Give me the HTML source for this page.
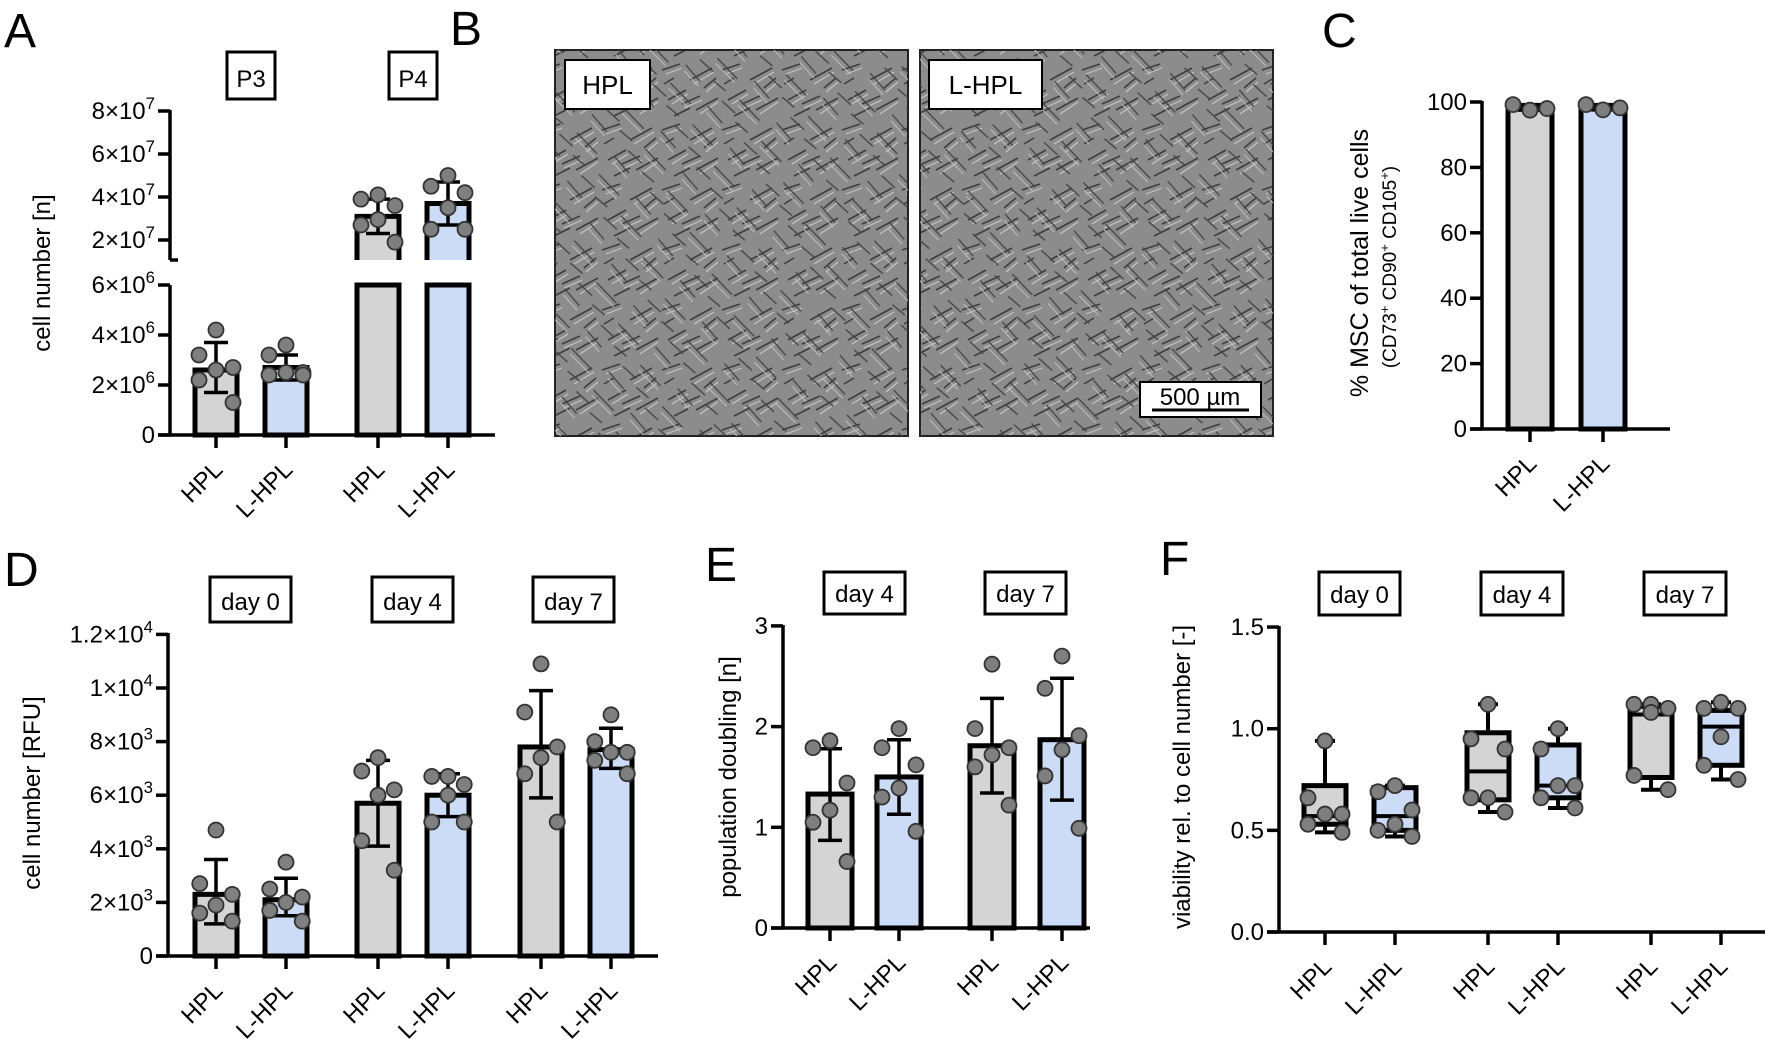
<!DOCTYPE html>
<html><head><meta charset="utf-8"><style>
body{margin:0;background:#fff;}
svg{display:block;font-family:"Liberation Sans",Arial,sans-serif;}
</style></head><body>
<svg id="fig" width="1772" height="1057" viewBox="0 0 1772 1057" xmlns="http://www.w3.org/2000/svg">
<defs>
<pattern id="cells" width="60" height="60" patternUnits="userSpaceOnUse">
<rect width="60" height="60" fill="#8c8c8c"/>
<path d="M2 10 L20 4 M30 20 L52 8 M8 40 L26 30 M36 50 L58 38 M14 56 L30 48 M44 28 L56 18 M4 24 L14 18 M22 44 L40 36" stroke="#3e3e3e" stroke-width="1.6"/>
<path d="M6 14 L22 8 M34 24 L54 12 M12 44 L28 34 M40 54 L58 42 M46 32 L58 22 M24 48 L42 40" stroke="#c4c4c4" stroke-width="1.2"/>
</pattern>
<pattern id="cells2" width="47" height="53" patternUnits="userSpaceOnUse" patternTransform="rotate(62)">
<path d="M3 8 L25 3 M12 30 L40 22 M5 46 L22 40 M30 44 L45 38" stroke="#444" stroke-width="1.4" fill="none"/>
<path d="M8 12 L28 7 M16 34 L42 26" stroke="#bdbdbd" stroke-width="1.1" fill="none"/>
</pattern>
</defs>
<g id="root"></g>
</svg>
<script>
// ===== Panel A data =====
const aCats = ["HPL","L-HPL","HPL","L-HPL"];
const aGroups = ["P3","P4"];
const aMeans = [2.6e6, 2.7e6, 3.1e7, 3.7e7];
const aErrLo = [1.7e6, 2.2e6, 2.3e7, 2.7e7];
const aErrHi = [3.7e6, 3.2e6, 3.9e7, 4.7e7];
const aPoints = [[4.2e6,3.2e6,2.7e6,2.6e6,2.2e6,1.3e6],[3.6e6,3.2e6,2.5e6,2.5e6,2.4e6,2.4e6],[4.1e7,3.9e7,3.6e7,2.95e7,2.7e7,1.9e7],[5.0e7,4.5e7,4.2e7,3.5e7,2.5e7,2.5e7]];
const aTicksLow = [0,2e6,4e6,6e6];
const aTicksHigh = [2e7,4e7,6e7,8e7];
// ===== Panel C data =====
const cCats = ["HPL","L-HPL"];
const cMeans = [98.0, 98.2];
const cErrLo = [97.5, 97.6];
const cErrHi = [99.2, 99.2];
const cPoints = [[97.5,99.2,98.0],[97.6,99.2,98.2]];
const cTicks = [0,20,40,60,80,100];
// ===== Panel D data =====
const dCats = ["HPL","L-HPL","HPL","L-HPL","HPL","L-HPL"];
const dGroups = ["day 0","day 4","day 7"];
const dMeans = [2.3, 2.1, 5.7, 6.0, 7.8, 7.7];
const dErrLo = [1.2, 1.5, 4.1, 5.2, 5.9, 7.0];
const dErrHi = [3.6, 2.9, 7.3, 6.8, 9.9, 8.5];
const dPoints = [[4.7,2.7,2.3,1.9,1.6,1.3],[3.5,2.5,2.2,2.0,1.7,1.3],[7.4,6.9,6.2,6.0,4.3,3.2],[6.7,6.7,6.4,6.0,5.0,5.0],[10.9,9.1,7.8,7.4,6.8,5.0],[9.0,8.0,7.6,7.6,7.3,6.8]];
const dTicks = [0,2,4,6,8,10,12];
const dTickLabels = ["0","2×10|3","4×10|3","6×10|3","8×10|3","1×10|4","1.2×10|4"];
// ===== Panel E data =====
const eCats = ["HPL","L-HPL","HPL","L-HPL"];
const eGroups = ["day 4","day 7"];
const eMeans = [1.33, 1.50, 1.81, 1.87];
const eErrLo = [0.87, 1.13, 1.34, 1.27];
const eErrHi = [1.78, 1.87, 2.28, 2.48];
const ePoints = [[1.86,1.79,1.44,1.17,1.05,0.66],[1.98,1.79,1.62,1.39,1.30,0.96],[2.62,1.98,1.79,1.72,1.60,1.22],[2.70,2.38,1.91,1.77,1.51,0.99]];
const eTicks = [0,1,2,3];
// ===== Panel F data =====
const fCats = ["HPL","L-HPL","HPL","L-HPL","HPL","L-HPL"];
const fGroups = ["day 0","day 4","day 7"];
const fMin = [0.49, 0.47, 0.59, 0.61, 0.70, 0.75];
const fQ1 = [0.53, 0.50, 0.65, 0.66, 0.76, 0.82];
const fMed = [0.57, 0.57, 0.79, 0.72, 1.07, 1.01];
const fQ3 = [0.72, 0.71, 0.98, 0.92, 1.11, 1.09];
const fMax = [0.94, 0.72, 1.12, 1.00, 1.12, 1.13];
const fPoints = [[0.94,0.66,0.58,0.58,0.53,0.49],[0.72,0.69,0.60,0.53,0.50,0.47],[1.12,0.95,0.90,0.66,0.66,0.59],[1.00,0.90,0.72,0.72,0.66,0.61],[1.12,1.12,1.10,1.08,0.77,0.70],[1.13,1.10,1.10,0.96,0.82,0.75]];
const fTicks = [0,0.5,1.0,1.5];
const fTickLabels = ["0.0","0.5","1.0","1.5"];

const NS="http://www.w3.org/2000/svg";
const root=document.getElementById('root');
const GRAY="#d4d4d4", BLUE="#cddcf6";
function mk(tag,attrs,parent){const e=document.createElementNS(NS,tag);for(const k in attrs)e.setAttribute(k,attrs[k]);(parent||root).appendChild(e);return e;}
function line(x1,y1,x2,y2,w,name){const e=mk('line',{x1,y1,x2,y2,stroke:'#000','stroke-width':w});

return e;}
function txt(x,y,s,size,anchor,name,extra){const e=mk('text',Object.assign({x,y,'font-size':size,'text-anchor':anchor||'start',fill:'#000'},extra||{}));


const parts=s.split('|');e.appendChild(document.createTextNode(parts[0]));
if(parts[1]){const t=mk('tspan',{dy:-10,'font-size':size*0.7},e);t.textContent=parts[1];}
return e;}
function letter(x,y,s,name){txt(x,y,s,48,'start',name);}
function groupBox(x1,x2,y1,y2,label,name){const r=mk('rect',{x:x1,y:y1,width:x2-x1,height:y2-y1,fill:'#fff',stroke:'#000','stroke-width':3});


txt((x1+x2)/2,y2-12,label,24,'middle',name);}
function xLabel(x,y0,s,name){const e=txt(0,0,s,24,'end',name);e.setAttribute('transform','translate('+(x+8)+','+(y0+36)+') rotate(-45)');}
function yTitle(x,y,s,size,name){const e=txt(0,0,s,size,'middle',name);e.setAttribute('transform','translate('+x+','+y+') rotate(-90)');return e;}
function dot(x,y,name){const c=mk('circle',{cx:x,cy:y,r:7.5,fill:'#7f7f7f',stroke:'#333','stroke-width':1.8});

}
const jit=[0,-17,17,0,-17,17];
function bar(cx,w,yTop,yBot,color,name){const r=mk('rect',{x:cx-w/2,y:yTop,width:w,height:yBot-yTop,fill:color,stroke:'#000','stroke-width':5});

}
function errBar(cx,yM,yLo,yHi,name){line(cx,yLo,cx,yHi,3.5,name);line(cx-12,yHi,cx+12,yHi,3.5,name+'-cap-top');line(cx-12,yLo,cx+12,yLo,3.5,name+'-cap-bottom');}
function barChart(o){
  line(o.ax,o.yTop-1,o.ax,o.y0+1.5,3.5,o.p+'-y-axis');
  line(o.ax-12,o.y0,o.xEnd,o.y0,3.5,o.p+'-x-axis');
  o.ticks.forEach((t,i)=>{const y=o.sy(t);line(o.ax-12,y,o.ax,y,3.5,o.p+'-y-tick');txt(o.ax-15,y+8,o.tickLabels[i],24,'end',o.p+'-y-tick-label');});
  o.cats.forEach((c,i)=>{const cx=o.xs[i];
    line(cx,o.y0,cx,o.y0+13,3.5,o.p+'-x-tick');
    xLabel(cx,o.y0,c,o.p+'-x-label-'+c.toLowerCase());
    bar(cx,o.w,o.sy(o.means[i]),o.y0,i%2?BLUE:GRAY,o.p+'-bar-'+i);
    errBar(cx,o.sy(o.means[i]),o.sy(o.lo[i]),o.sy(o.hi[i]),o.p+'-error-bar');
    o.pts[i].forEach((v,j)=>dot(cx+jit[j%6]*(o.w/44),o.sy(v),o.p+'-data-point'));
  });
}
// ---------- Panel A (broken axis) ----------
letter(4,47,"A","panel-a-label");
groupBox(227,275,52,99,"P3","panel-a-group-p3");
groupBox(389,437,52,99,"P4","panel-a-group-p4");
yTitle(50,273,"cell number [n]",24,"panel-a-y-title");
(function(){
  const ax=170,y0=435;
  const sLow=v=>y0-v/6e6*150, sHigh=v=>240-(v-2e7)/2e7*43;
  const breakY=260, lowTop=285;
  line(ax,110,ax,breakY,3.5,'panel-a-y-axis-upper');
  line(ax,lowTop,ax,y0+1.5,3.5,'panel-a-y-axis-lower');
  line(ax,breakY,ax+8,breakY,3.5,'panel-a-axis-break');
  line(ax-12,y0,495,y0,3.5,'panel-a-x-axis');
  aTicksLow.forEach(t=>{const y=sLow(t);line(ax-12,y,ax,y,3.5,'panel-a-y-tick');txt(ax-15,y+8,t===0?"0":(t/1e6)+"×10|6",24,'end','panel-a-y-tick-label');});
  aTicksHigh.forEach(t=>{const y=sHigh(t);line(ax-12,y,ax,y,3.5,'panel-a-y-tick');txt(ax-15,y+8,(t/1e7)+"×10|7",24,'end','panel-a-y-tick-label');});
  const xs=[216,286,378,448];
  const sy=v=>v>8e6?sHigh(v):sLow(v);
  aCats.forEach((c,i)=>{const cx=xs[i],col=i%2?BLUE:GRAY;
    line(cx,y0,cx,y0+13,3.5,'panel-a-x-tick');
    xLabel(cx,y0,c,'panel-a-x-label-'+c.toLowerCase());
    if(aMeans[i]>8e6){bar(cx,42,lowTop,y0,col,'panel-a-bar-'+i+'-lower');
      const r=mk('rect',{x:cx-21,y:sHigh(aMeans[i]),width:42,height:breakY-sHigh(aMeans[i]),fill:col,stroke:'none'});
      
      
      mk('path',{d:'M'+(cx-21)+' '+breakY+'V'+sHigh(aMeans[i])+'H'+(cx+21)+'V'+breakY,fill:'none',stroke:'#000','stroke-width':5});
    } else bar(cx,42,sy(aMeans[i]),y0,col,'panel-a-bar-'+i);
    errBar(cx,sy(aMeans[i]),sy(aErrLo[i]),sy(aErrHi[i]),'panel-a-error-bar');
    aPoints[i].forEach((v,j)=>dot(cx+jit[j],sy(v),'panel-a-data-point'));
  });
})();
// ---------- Panel B (micrographs) ----------
letter(450,45,"B","panel-b-label");
[[536,"HPL",565,650],[920,"L-HPL",929,1042]].forEach((m,k)=>{
  const x0=k?920:555;
  const r=mk('rect',{x:x0,y:50,width:353,height:386,fill:'url(#cells)',stroke:'#222','stroke-width':2});
  
  
  const r2=mk('rect',{x:x0,y:50,width:353,height:386,fill:'url(#cells2)',stroke:'none'});
  
  
  const b=mk('rect',{x:m[2],y:60,width:m[3]-m[2],height:49,fill:'#fff',stroke:'#000','stroke-width':2});
  
  
  txt((m[2]+m[3])/2,94,m[1],26,'middle',k?'l-hpl-image-label':'hpl-image-label');
});
(function(){const b=mk('rect',{x:1140,y:382,width:121,height:35,fill:'#fff',stroke:'#000','stroke-width':2});


txt(1200,405,"500 µm",24,'middle','scale-bar-label');
line(1152,410,1249,410,3,'scale-bar');})();
// ---------- Panel C ----------
letter(1322,47,"C","panel-c-label");
yTitle(1368,263,"% MSC of total live cells",25,"panel-c-y-title");
(function(){const e=yTitle(1396,267,"",19,"panel-c-y-subtitle");
 const parts=[["(CD73",0],["+",1],[" CD90",0],["+",1],[" CD105",0],["+",1],[")",0]];
 parts.forEach(p=>{const t=mk('tspan',p[1]?{'font-size':13,'baseline-shift':'super'}:{},e);t.textContent=p[0];});})();
barChart({p:'panel-c',ax:1482,y0:429,yTop:102,xEnd:1670,sy:v=>429-v*3.27,ticks:cTicks,tickLabels:cTicks.map(String),cats:cCats,xs:[1530,1603],w:44,means:cMeans,lo:cErrLo,hi:cErrHi,pts:cPoints});
// ---------- Panel D ----------
letter(4,586,"D","panel-d-label");
groupBox(210,291,577,622,"day 0","panel-d-group-day0");
groupBox(372,453,577,622,"day 4","panel-d-group-day4");
groupBox(533,614,577,622,"day 7","panel-d-group-day7");
yTitle(40,793,"cell number [RFU]",24,"panel-d-y-title");
barChart({p:'panel-d',ax:168,y0:956,yTop:634,xEnd:658,sy:v=>956-v*26.8,ticks:dTicks,tickLabels:dTickLabels,cats:dCats,xs:[216,286,378,448,541,611],w:42,means:dMeans,lo:dErrLo,hi:dErrHi,pts:dPoints});
// ---------- Panel E ----------
letter(705,581,"E","panel-e-label");
groupBox(824,905,572,614,"day 4","panel-e-group-day4");
groupBox(985,1066,572,614,"day 7","panel-e-group-day7");
yTitle(736,777,"population doubling [n]",24,"panel-e-y-title");
barChart({p:'panel-e',ax:783,y0:928,yTop:626,xEnd:1090,sy:v=>928-v*100.7,ticks:eTicks,tickLabels:eTicks.map(String),cats:eCats,xs:[830,899,992,1062],w:44,means:eMeans,lo:eErrLo,hi:eErrHi,pts:ePoints});
// ---------- Panel F (box plots) ----------
letter(1160,575,"F","panel-f-label");
groupBox(1319,1400,572,615,"day 0","panel-f-group-day0");
groupBox(1481,1563,572,615,"day 4","panel-f-group-day4");
groupBox(1644,1726,572,615,"day 7","panel-f-group-day7");
yTitle(1190,777,"viability rel. to cell number [-]",24,"panel-f-y-title");
(function(){
  const ax=1279,y0=932,sy=v=>y0-v*203.3,xs=[1325,1395,1488,1558,1651,1721],w=42;
  line(ax,sy(1.5)-1,ax,y0+1.5,3.5,'panel-f-y-axis');
  line(ax-12,y0,1765,y0,3.5,'panel-f-x-axis');
  fTicks.forEach((t,i)=>{const y=sy(t);line(ax-12,y,ax,y,3.5,'panel-f-y-tick');txt(ax-15,y+8,fTickLabels[i],24,'end','panel-f-y-tick-label');});
  fCats.forEach((c,i)=>{const cx=xs[i];
    line(cx,y0,cx,y0+13,3.5,'panel-f-x-tick');
    xLabel(cx,y0,c,'panel-f-x-label-'+c.toLowerCase());
    line(cx,sy(fMax[i]),cx,sy(fQ3[i]),4,'panel-f-whisker-upper');
    line(cx,sy(fQ1[i]),cx,sy(fMin[i]),4,'panel-f-whisker-lower');
    line(cx-10,sy(fMax[i]),cx+10,sy(fMax[i]),4,'panel-f-whisker-cap');
    line(cx-10,sy(fMin[i]),cx+10,sy(fMin[i]),4,'panel-f-whisker-cap');
    const r=mk('rect',{x:cx-w/2,y:sy(fQ3[i]),width:w,height:sy(fQ1[i])-sy(fQ3[i]),fill:i%2?BLUE:GRAY,stroke:'#000','stroke-width':5});
    
    
    line(cx-w/2,sy(fMed[i]),cx+w/2,sy(fMed[i]),4,'panel-f-median');
    fPoints[i].forEach((v,j)=>dot(cx+jit[j],sy(v),'panel-f-data-point'));
  });
})();
</script>
</body></html>
